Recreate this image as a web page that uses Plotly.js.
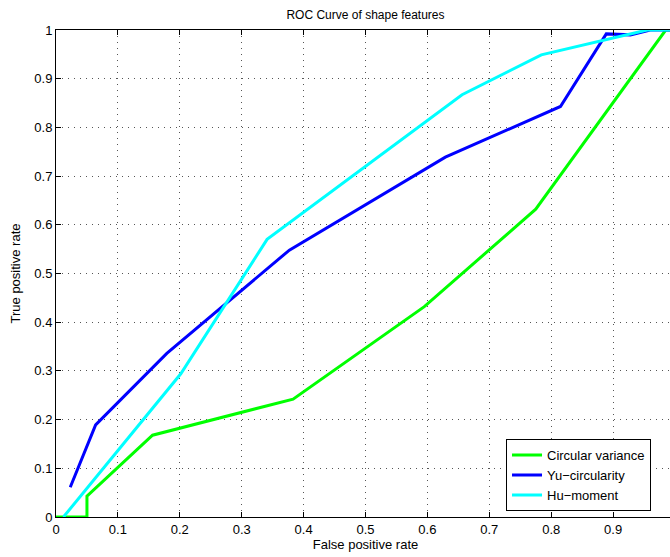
<!DOCTYPE html>
<html>
<head>
<meta charset="utf-8">
<script src="https://cdn.plot.ly/plotly-3.0.1.min.js"></script>
<style>
html, body { margin: 0; padding: 0; overflow: hidden; background: #fff; }
#chart { width: 680px; height: 557px; }
</style>
</head>
<body>
<div id="chart"></div>
<script>
// Data
const seriesNames = ["Circular variance", "Yu\u2212circularity", "Hu\u2212moment"];
const circularX = [0, 0.05, 0.05, 0.156, 0.383, 0.595, 0.775, 0.985, 1.0];
const circularY = [0, 0, 0.043, 0.168, 0.242, 0.432, 0.632, 1.0, 1.0];
const yuX = [0.023, 0.064, 0.179, 0.377, 0.629, 0.815, 0.889, 0.928, 0.96, 1.0];
const yuY = [0.061, 0.189, 0.336, 0.548, 0.739, 0.843, 0.992, 0.99, 1.0, 1.0];
const huX = [0.012, 0.2016, 0.341, 0.656, 0.784, 0.955, 1.0];
const huY = [0, 0.294, 0.570, 0.867, 0.949, 1.0, 1.0];
const tickVals = [0, 0.1, 0.2, 0.3, 0.4, 0.5, 0.6, 0.7, 0.8, 0.9, 1];
const yTickText = ["0", "0.1", "0.2", "0.3", "0.4", "0.5", "0.6", "0.7", "0.8", "0.9", "1"];
// the x label "1" falls outside the visible frame in the reference
const xTickText = ["0", "0.1", "0.2", "0.3", "0.4", "0.5", "0.6", "0.7", "0.8", "0.9", ""];
const colors = ["#00ff00", "#0000ff", "#00ffff"];

const font = "Liberation Sans, Arial, Helvetica, sans-serif";

const traces = [
  {x: circularX, y: circularY, name: seriesNames[0]},
  {x: yuX, y: yuY, name: seriesNames[1]},
  {x: huX, y: huY, name: seriesNames[2]}
].map((t, i) => Object.assign(t, {
  type: "scatter", mode: "lines",
  line: {color: colors[i], width: 3}
}));

const axisCommon = {
  range: [0, 1],
  tickmode: "array",
  tickvals: tickVals,
  ticks: "inside",
  ticklen: 5,
  tickcolor: "#000",
  tickwidth: 1,
  showline: true,
  linecolor: "#000",
  linewidth: 1,
  mirror: "ticks",
  showgrid: true,
  gridcolor: "#555",
  griddash: "1px,5px",
  gridwidth: 1,
  zeroline: false,
  tickfont: {family: font, size: 13, color: "#000"}
};

const layout = {
  width: 680,
  height: 557,
  margin: {l: 56, r: 5, t: 30, b: 40},
  paper_bgcolor: "#fff",
  plot_bgcolor: "#fff",
  title: {
    text: "ROC Curve of shape features",
    font: {family: font, size: 12, color: "#000"},
    x: 0.5, xref: "paper", xanchor: "center",
    y: 1 - 15 / 557, yref: "container", yanchor: "middle"
  },
  xaxis: Object.assign({}, axisCommon, {
    ticktext: xTickText,
    title: {text: "False positive rate", font: {family: font, size: 13, color: "#000"}, standoff: 4}
  }),
  yaxis: Object.assign({}, axisCommon, {
    ticktext: yTickText,
    title: {text: "True positive rate", font: {family: font, size: 13, color: "#000"}, standoff: 10}
  }),
  showlegend: true,
  legend: {
    x: 0.727, y: 0.012, xanchor: "left", yanchor: "bottom",
    bgcolor: "#fff", bordercolor: "#000", borderwidth: 1,
    font: {family: font, size: 13, color: "#000"},
    tracegroupgap: 0,
    itemwidth: 30
  }
};

Plotly.newPlot("chart", traces, layout, {displayModeBar: false, staticPlot: true});
</script>
</body>
</html>
